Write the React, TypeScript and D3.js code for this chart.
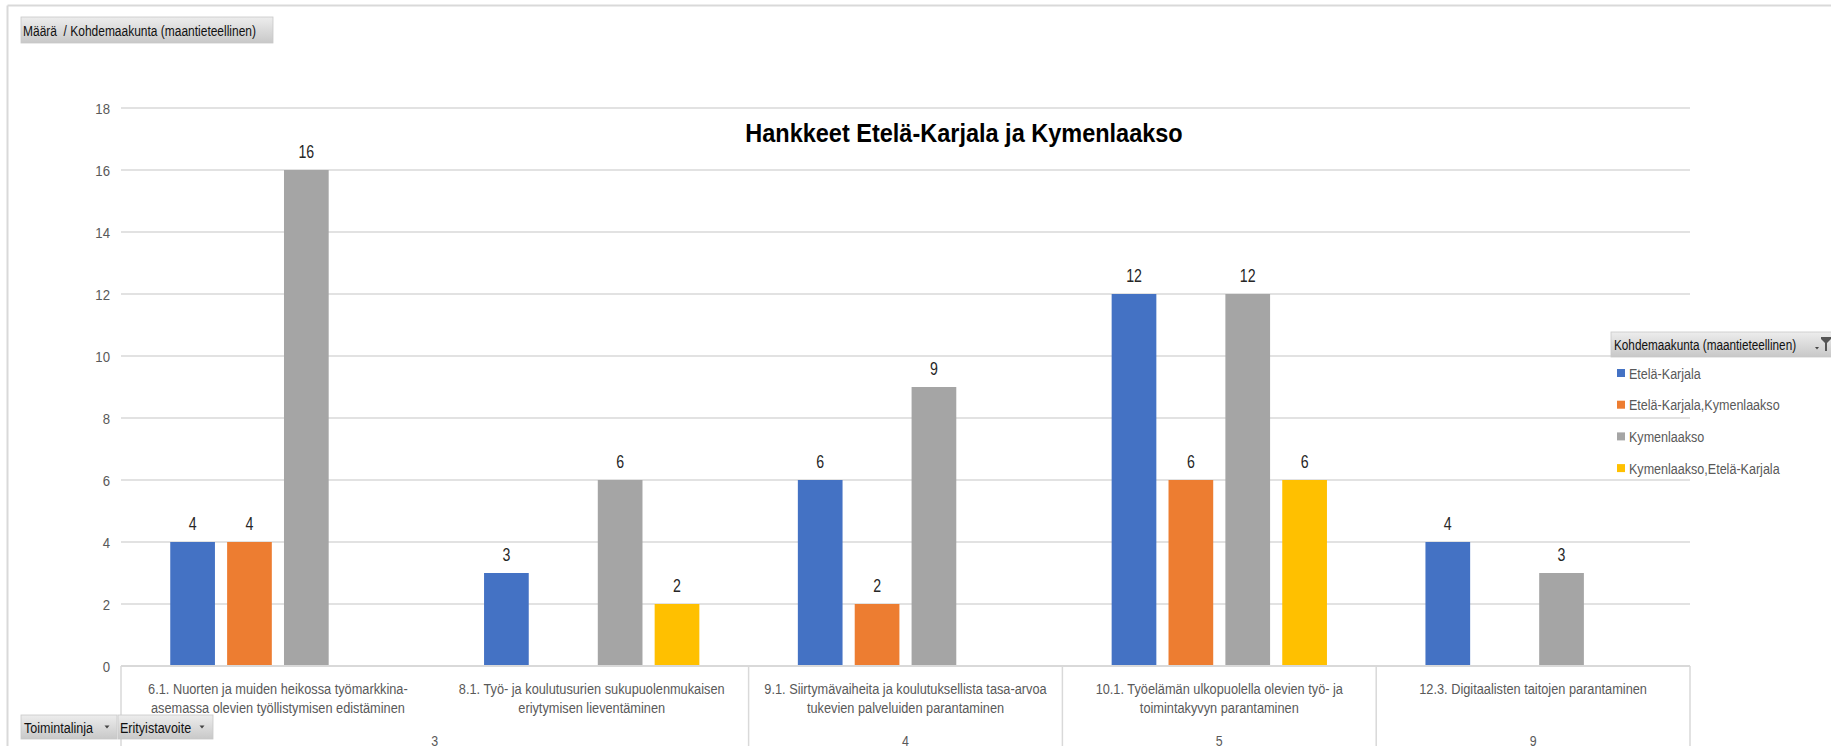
import React from 'react';
import * as d3 from 'd3';

const categories = [
  '6.1. Nuorten ja muiden heikossa työmarkkina-\nasemassa olevien työllistymisen edistäminen',
  '8.1. Työ- ja koulutusurien sukupuolenmukaisen\neriytymisen lieventäminen',
  '9.1. Siirtymävaiheita ja koulutuksellista tasa-arvoa\ntukevien palveluiden parantaminen',
  '10.1. Työelämän ulkopuolella olevien työ- ja\ntoimintakyvyn parantaminen',
  '12.3. Digitaalisten taitojen parantaminen',
];
const toimintalinja = ['3', '3', '4', '5', '9'];

const seriesNames = ['Etelä-Karjala', 'Etelä-Karjala,Kymenlaakso', 'Kymenlaakso', 'Kymenlaakso,Etelä-Karjala'];
const seriesColors = ['#4472C4', '#ED7D31', '#A5A5A5', '#FFC000'];

const eteläKarjala = [4, 3, 6, 12, 4];
const eteläKarjalaKymenlaakso = [4, null, 2, 6, null];
const kymenlaakso = [16, 6, 9, 12, 3];
const kymenlaaksoEteläKarjala = [null, 2, null, 6, null];

const yTicks = [0, 2, 4, 6, 8, 10, 12, 14, 16, 18];

const title = 'Hankkeet Etelä-Karjala ja Kymenlaakso';

const FONT = '"Liberation Sans", Arial, sans-serif';
// the original font is narrow (Calibri squeezed), so texts are compressed horizontally
const SQUEEZE = 0.81;

function T({ x, y, anchor = 'start', size, fill = '#595959', weight, lines, sx = SQUEEZE, children }: any) {
  return (
    <text
      transform={`translate(${x},${y}) scale(${sx},1)`}
      textAnchor={anchor}
      fontSize={size}
      fill={fill}
      fontWeight={weight}
      style={{ whiteSpace: 'pre' }}
    >
      {lines
        ? lines.map((l: string, i: number) => (
            <tspan key={i} x={0} dy={i === 0 ? 0 : 19.5}>{l}</tspan>
          ))
        : children}
    </text>
  );
}

export default function App() {
  const width = 1831;
  const height = 746;
  const margin = { top: 108, right: 141, bottom: 80, left: 121 };

  const values = [eteläKarjala, eteläKarjalaKymenlaakso, kymenlaakso, kymenlaaksoEteläKarjala];

  const x0 = d3.scaleBand<number>()
    .domain(categories.map((_, i) => i))
    .range([margin.left, width - margin.right]);

  const x1 = d3.scaleBand<number>()
    .domain(seriesNames.map((_, i) => i))
    .range([0, x0.bandwidth()])
    .paddingInner(0.214)
    .paddingOuter(0.866);

  const y = d3.scaleLinear()
    .domain([0, 18])
    .range([height - margin.bottom, margin.top]);

  // outer groups (Toimintalinja)
  const groups: { label: string; start: number; end: number }[] = [];
  toimintalinja.forEach((t, i) => {
    const last = groups[groups.length - 1];
    if (last && last.label === t) last.end = i;
    else groups.push({ label: t, start: i, end: i });
  });

  const xl = margin.left;
  const xr = width - margin.right;
  const y0 = y(0);

  const button = (x: number, yy: number, w: number, h: number, key: string) => (
    <rect key={key} x={x} y={yy} width={w} height={h} fill="url(#btnGrad)" stroke="#c8c8c8" strokeWidth={0.8} />
  );

  const arrow = (cx: number, cy: number) => (
    <path d={`M${cx - 2.5},${cy - 1.5} L${cx + 2.5},${cy - 1.5} L${cx},${cy + 1.5} Z`} fill="#444" />
  );

  return (
    <div style={{ position: 'absolute', left: 0, top: 0 }}>
      <svg width={width} height={height} style={{ display: 'block', background: '#fff' }} fontFamily={FONT}>
        <defs>
          <linearGradient id="btnGrad" x1="0" x2="0" y1="0" y2="1">
            <stop offset="0%" stopColor="#ededed" />
            <stop offset="100%" stopColor="#c8c8c8" />
          </linearGradient>
        </defs>

        {/* outer frame */}
        <line x1={7.5} x2={width} y1={5.5} y2={5.5} stroke="#d9d9d9" strokeWidth={2} />
        <line x1={7.5} x2={7.5} y1={5.5} y2={height} stroke="#d9d9d9" strokeWidth={2} />

        {/* gridlines */}
        {yTicks.filter(t => t > 0).map(t => (
          <line key={t} x1={xl} x2={xr} y1={y(t)} y2={y(t)} stroke="#d9d9d9" strokeWidth={1.5} />
        ))}
        {yTicks.map(t => (
          <T key={t} x={110} y={y(t) + 5.5} anchor="end" size={15.5} sx={0.85}>{t}</T>
        ))}

        {/* title */}
        <T x={964} y={142} anchor="middle" size={25} weight="bold" fill="#000" sx={0.94}>{title}</T>

        {/* bars */}
        {categories.map((_, ci) => (
          <g key={ci} transform={`translate(${x0(ci)},0)`}>
            {values.map((vals, si) => {
              const v = vals[ci];
              if (v == null) return null;
              const bx = x1(si)!;
              return (
                <g key={si}>
                  <rect x={bx} y={y(v)} width={x1.bandwidth()} height={y0 - y(v)} fill={seriesColors[si]} />
                  <T x={bx + x1.bandwidth() / 2} y={y(v) - 12} anchor="middle" size={17.5} fill="#262626">{v}</T>
                </g>
              );
            })}
          </g>
        ))}

        {/* category axis */}
        <line x1={xl} x2={xr} y1={y0} y2={y0} stroke="#d9d9d9" strokeWidth={2} />
        <line x1={xl} x2={xl} y1={y0} y2={height} stroke="#d9d9d9" strokeWidth={1.5} />
        {groups.map(g => {
          const gx = x0(g.end)! + x0.bandwidth();
          return <line key={g.label} x1={gx} x2={gx} y1={y0} y2={height} stroke="#d9d9d9" strokeWidth={1.5} />;
        })}
        {categories.map((c, ci) => (
          <T key={ci} x={x0(ci)! + x0.bandwidth() / 2} y={694} anchor="middle" size={15.3} sx={0.835} lines={c.split('\n')} />
        ))}
        {groups.map(g => {
          const cx = (x0(g.start)! + x0(g.end)! + x0.bandwidth()) / 2;
          return <T key={g.label} x={cx} y={746} anchor="middle" size={15.3}>{g.label}</T>;
        })}

        {/* top-left field button */}
        {button(21, 17, 252, 26, 'b1')}
        <T x={23} y={35.5} size={14.8} fill="#111">{'Määrä  / Kohdemaakunta (maantieteellinen)'}</T>

        {/* bottom field buttons */}
        {button(21, 715, 96, 24, 'b2')}
        <T x={24} y={732.5} size={15.5} fill="#111">Toimintalinja</T>
        {arrow(107, 727)}
        {button(118, 715, 95, 24, 'b3')}
        <T x={120} y={732.5} size={15.5} fill="#111">Erityistavoite</T>
        {arrow(202, 727)}

        {/* legend */}
        {button(1611, 332, 222, 25, 'b4')}
        <T x={1614} y={349.5} size={14.5} fill="#111">Kohdemaakunta (maantieteellinen)</T>
        <path d="M1815,347 L1819,347 L1817,349.5 Z" fill="#444" />
        <path d="M1821,337 L1831,337 L1831,339 L1827,343 L1827,351 L1825,351 L1825,343 L1821,339 Z" fill="#555" />
        {seriesNames.map((s, i) => (
          <g key={s} transform={`translate(1617,${373 + i * 31.7})`}>
            <rect x={0} y={-4} width={8} height={8} fill={seriesColors[i]} />
            <T x={12} y={5.5} size={15.5}>{s}</T>
          </g>
        ))}
      </svg>
    </div>
  );
}
